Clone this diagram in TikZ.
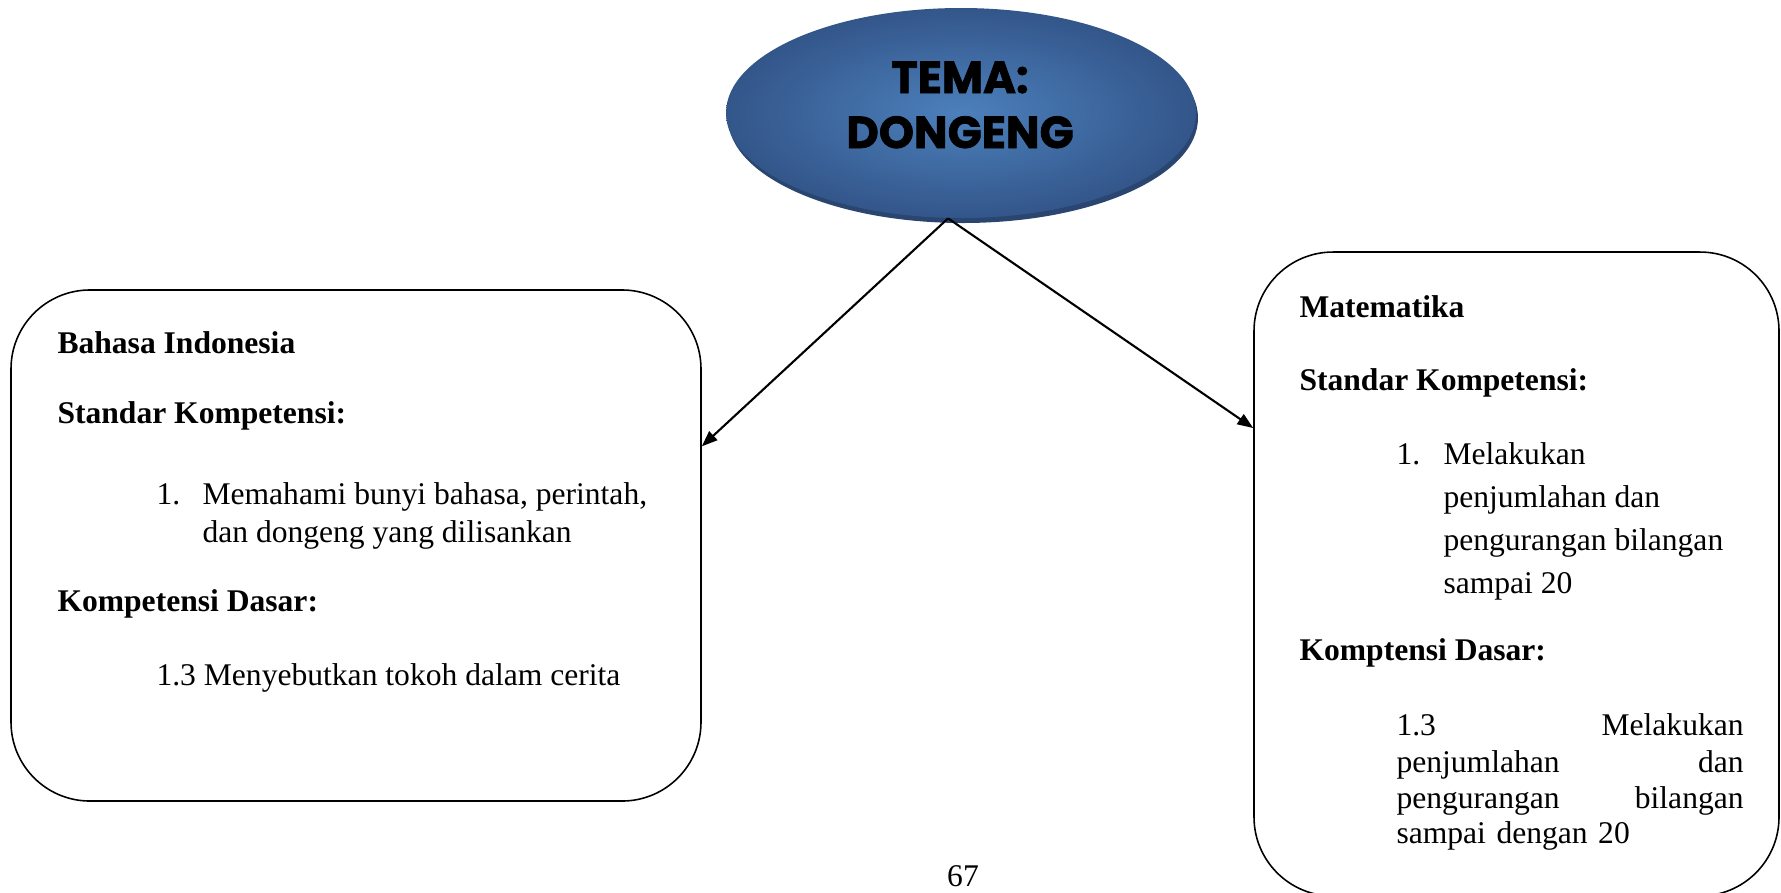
\documentclass[tikz,border=0pt,12pt]{standalone}
\usepackage{fontspec}
\setmainfont{Liberation Serif}
\newfontfamily\temafont{Poppins}[BoldFeatures={FakeBold=1.6}]
\usetikzlibrary{arrows.meta,shapes.geometric}
\definecolor{temaBlue}{HTML}{4C80BC}
\definecolor{temaEdge}{HTML}{33568A}
\definecolor{temaShade}{HTML}{2A4670}
\tikzset{
  card/.style ={draw=black,line width=0.6pt,rounded corners=30pt,inner sep=0pt},
  head/.style ={font=\bfseries,anchor=base west,inner sep=0pt},
  txt/.style  ={anchor=base west,inner sep=0pt},
  jline/.style={txt,text width=131.9pt},
  temalbl/.style={font=\temafont\bfseries\fontsize{17}{20}\selectfont,anchor=base,inner sep=0pt},
  link/.style ={-{Triangle[length=6pt,width=4.5pt]},line width=0.8pt},
}
\begin{document}
\begin{tikzpicture}[x=0.38pt,y=-0.38pt]
\useasboundingbox (0,0) rectangle (1781,892);
% theme
\node[ellipse,fill=temaShade,minimum width=178.6pt,minimum height=79.8pt] (temashadow) at (963,118) {};
\node[ellipse,inner color=temaBlue,outer color=temaEdge,minimum width=178.6pt,minimum height=79.8pt] (tema) at (961,113) {};
\node[temalbl] (tema1) at (960,93) {TEMA:};
\node[temalbl] (tema2) at (960,148) {DONGENG};

% subject boxes
\node[card,minimum width=262.2pt,minimum height=194.2pt] (bind) at (356,545.5) {};
\node[card,minimum width=199.5pt,minimum height=244.7pt] (mat) at (1516.5,574) {};

\draw[link] (tema.263) -- (bind.16);
\draw[link] (tema.263) -- (mat.151);

% Bahasa Indonesia
\node[head] (bi) at (57,353) {Bahasa Indonesia};
\node[head] (bisk) at (57,423) {Standar Kompetensi:};
\node[txt] (bisknum) at (156,504) {1.};
\node[txt] (bisk1) at (202,504) {Memahami bunyi bahasa, perintah,};
\node[txt] (bisk2) at (202,542) {dan dongeng yang dilisankan};
\node[head] (bikd) at (57,611) {Kompetensi Dasar:};
\node[txt] (bikd1) at (156,685) {1.3 Menyebutkan tokoh dalam cerita};

% Matematika
\node[head] (mt) at (1299,317) {Matematika};
\node[head] (mtsk) at (1299,390) {Standar Kompetensi:};
\node[txt] (mtsknum) at (1396,464) {1.};
\node[txt] (mtsk1) at (1443,464) {Melakukan};
\node[txt] (mtsk2) at (1443,507) {penjumlahan dan};
\node[txt] (mtsk3) at (1443,550) {pengurangan bilangan};
\node[txt] (mtsk4) at (1443,593) {sampai 20};
\node[head] (mtkd) at (1299,660) {Komptensi Dasar:};
\node[jline] (mtkd1) at (1396,735) {1.3 \hfill Melakukan};
\node[jline] (mtkd2) at (1396,772) {penjumlahan \hfill dan};
\node[jline] (mtkd3) at (1396,808) {pengurangan \hfill bilangan};
\node[jline] (mtkd4) at (1396,843) {sampai dengan 20};

% page number
\node[txt,anchor=base] (page) at (963,886) {67};
\end{tikzpicture}
\end{document}
